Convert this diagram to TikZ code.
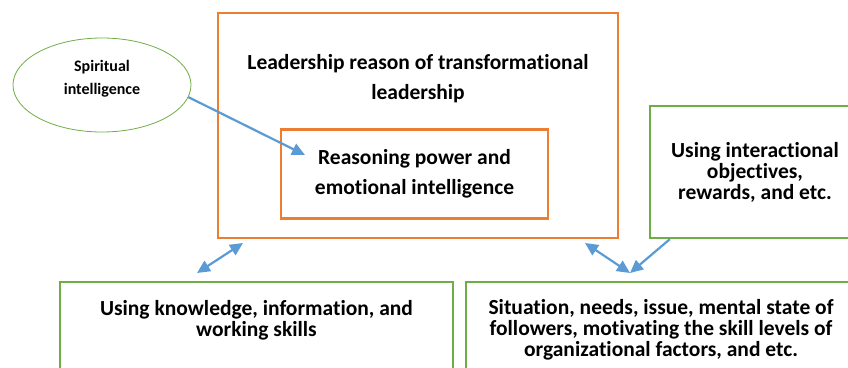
\documentclass[tikz,border=0pt]{standalone}
\usepackage{fontspec}
\setmainfont[Ligatures={NoCommon}]{Carlito}
\usetikzlibrary{arrows.meta,shapes.geometric}
\definecolor{boxorange}{HTML}{ED7D31}
\definecolor{boxgreen}{HTML}{70AD47}
\definecolor{linkblue}{HTML}{5B9BD5}
\begin{document}
\begin{tikzpicture}[x=1pt,y=-1pt,
        orangebox/.style={draw=boxorange,line width=2.3pt,inner sep=0pt},
        greenbox/.style={draw=boxgreen,line width=2.3pt,inner sep=0pt},
        boxtext/.style={align=center,font=\bfseries\fontsize{21.5}{21}\selectfont},
        link/.style={draw=linkblue,line width=2.2pt,-{Triangle[length=13pt,width=12pt]}},
        twoway/.style={draw=linkblue,line width=2.2pt,{Triangle[length=13pt,width=12pt]}-{Triangle[length=13pt,width=12pt]}}]
        \useasboundingbox (0,0) rectangle (848,367);
        % orange boxes
        \node[orangebox,minimum width=400pt,minimum height=225pt] (lead) at (418,125.5) {};
        \node[boxtext,font=\bfseries\fontsize{21.5}{30}\selectfont] (leadtext) at (418,79)
            {Leadership reason of transformational\\leadership};
        \node[orangebox,boxtext,font=\bfseries\fontsize{21.5}{30}\selectfont,
            minimum width=267pt,minimum height=89pt] (reason) at (414.5,174)
            {Reasoning power and\\emotional intelligence};
        % green boxes
        \node[draw=boxgreen,line width=0.8pt,ellipse,inner sep=0pt,minimum width=178pt,minimum height=94pt,
            label={[align=center,font=\bfseries\fontsize{16}{23}\selectfont,yshift=6.5pt]center:Spiritual\\intelligence}]
            (spirit) at (102,85) {};
        \node[greenbox,boxtext,minimum width=210pt,minimum height=132pt] (inter) at (755,172)
            {Using interactional\\objectives,\\rewards, and etc.};
        \node[greenbox,minimum width=393pt,minimum height=100pt] (know) at (256.5,332) {};
        \node[boxtext] (knowtext) at (256.5,320) {Using knowledge, information, and\\working skills};
        \node[greenbox,minimum width=390pt,minimum height=100pt] (situ) at (661,332) {};
        \node[boxtext] (situtext) at (661,330)
            {Situation, needs, issue, mental state of\\followers, motivating the skill levels of\\organizational factors, and etc.};
        % arrows
        \coordinate (spirittip) at (305,155);
        \coordinate (leadleft) at (243,243);
        \coordinate (knowtop) at (197,273);
        \coordinate (leadright) at (585,243);
        \coordinate (meet) at (630,273);
        \draw[link] (spirit.-8) -- (spirittip);
        \draw[twoway] (leadleft) -- (knowtop);
        \draw[twoway] (leadright) -- (meet);
        \draw[link] ([xshift=21pt]inter.south west) -- (meet);
    \end{tikzpicture}
\end{document}
